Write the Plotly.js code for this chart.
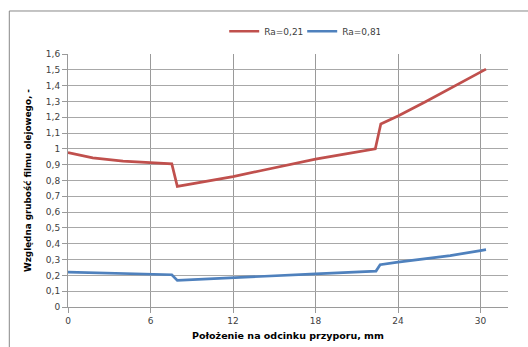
<!DOCTYPE html>
<html>
<head>
<meta charset="utf-8">
<script src="https://cdn.plot.ly/plotly-3.0.1.min.js"></script>
<style>html,body{margin:0;padding:0;background:#fff}#chart{width:528px;height:347px}</style>
</head>
<body>
<div id="chart"></div>
<script>
// Data
const seriesNames = ["Ra=0,21", "Ra=0,81"];
const xRed = [0, 1.8, 4, 6, 7.55, 7.95, 10, 12, 14, 16, 18, 20, 22.35, 22.75, 24, 26, 28, 30, 30.4];
const yRed = [0.977, 0.943, 0.922, 0.91, 0.905, 0.763, 0.795, 0.825, 0.862, 0.898, 0.935, 0.965, 1.0, 1.157, 1.208, 1.298, 1.39, 1.481, 1.504];
const xBlue = [0, 6, 7.55, 7.95, 12, 18, 22.4, 22.7, 24, 27.8, 30, 30.4];
const yBlue = [0.221, 0.206, 0.204, 0.168, 0.183, 0.21, 0.227, 0.267, 0.284, 0.325, 0.357, 0.363];
const xTickVals = [0, 6, 12, 18, 24, 30];
const xTickText = ["0", "6", "12", "18", "24", "30"];
const yTickVals = [0, 0.1, 0.2, 0.3, 0.4, 0.5, 0.6, 0.7, 0.8, 0.9, 1, 1.1, 1.2, 1.3, 1.4, 1.5, 1.6];
const yTickText = ["0", "0,1", "0,2", "0,3", "0,4", "0,5", "0,6", "0,7", "0,8", "0,9", "1", "1,1", "1,2", "1,3", "1,4", "1,5", "1,6"];
const xTitle = "Położenie na odcinku przyporu, mm";
const yTitle = "Względna grubość filmu olejowego, -";

const font = "DejaVu Sans, Verdana, sans-serif";
const traces = [
  {x: xRed, y: yRed, name: seriesNames[0], type: "scatter", mode: "lines",
   line: {color: "#C0504D", width: 2.7}},
  {x: xBlue, y: yBlue, name: seriesNames[1], type: "scatter", mode: "lines",
   line: {color: "#4F81BD", width: 2.7}}
];
const layout = {
  width: 528, height: 347,
  margin: {l: 68, r: 20, t: 54, b: 40},
  paper_bgcolor: "#fff", plot_bgcolor: "#fff",
  font: {family: font, size: 9, color: "#404040"},
  showlegend: true,
  legend: {orientation: "h", x: 0.355, xanchor: "left", y: 1.09, yanchor: "middle",
           font: {family: font, size: 9, color: "#404040"}, itemwidth: 30, entrywidth: 33,
           tracegroupgap: 0, bgcolor: "rgba(0,0,0,0)"},
  xaxis: {range: [0, 32], tickvals: xTickVals, ticktext: xTickText, showgrid: true,
          gridcolor: "#9a9a9a", gridwidth: 1, zeroline: false, showline: true,
          linecolor: "#9a9a9a", ticks: "outside", ticklen: 5, tickcolor: "#9a9a9a",
          tickfont: {family: font, size: 9, color: "#404040"}, fixedrange: true,
          title: {text: xTitle, font: {family: font, size: 9.5, color: "#000", weight: "bold"}, standoff: 7}},
  yaxis: {range: [0, 1.6], tickvals: yTickVals, ticktext: yTickText, showgrid: true,
          gridcolor: "#a8a8a8", gridwidth: 1, zeroline: false, showline: true,
          linecolor: "#9a9a9a", ticks: "outside", ticklen: 5, tickcolor: "#9a9a9a",
          tickfont: {family: font, size: 9, color: "#404040"}, fixedrange: true,
          title: {text: yTitle, font: {family: font, size: 8.8, color: "#000", weight: "bold"}, standoff: 12}},
  shapes: [{type: "rect", xref: "paper", yref: "paper", x0: -0.1334, x1: 1.06, y0: -0.2, y1: 1.17,
            line: {color: "#888", width: 1}, layer: "below"}]
};
Plotly.newPlot("chart", traces, layout, {displayModeBar: false, staticPlot: true});
</script>
</body>
</html>
